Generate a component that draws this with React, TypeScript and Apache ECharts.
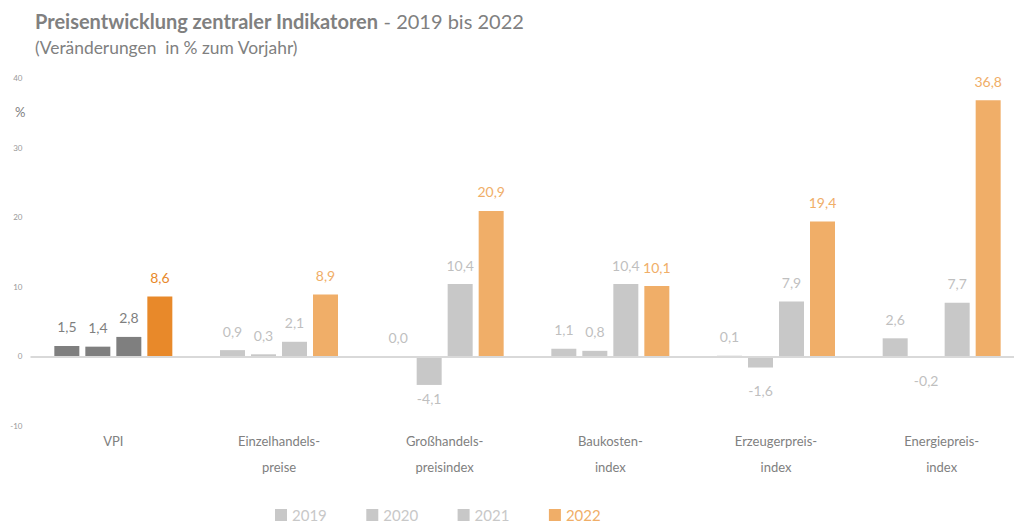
import React, { useEffect, useRef } from "react";
import * as echarts from "echarts";

const categories = ["VPI", "Einzelhandels-\npreise", "Großhandels-\npreisindex", "Baukosten-\nindex", "Erzeugerpreis-\nindex", "Energiepreis-\nindex"];
const years = ["2019", "2020", "2021", "2022"];
const v2019 = [1.5, 0.9, 0.0, 1.1, 0.1, 2.6];
const v2020 = [1.4, 0.3, -4.1, 0.8, -1.6, -0.2];
const v2021 = [2.8, 2.1, 10.4, 10.4, 7.9, 7.7];
const v2022 = [8.6, 8.9, 20.9, 10.1, 19.4, 36.8];
const yTicks = { min: -10, max: 40, interval: 10 };

const GRAY = "#C8C8C8";
const GRAY_LBL = "#BFBFBF";
const DARK = "#7F7F7F";
const ORANGE = "#F0AE68";
const ORANGE_DARK = "#E8892A";
const FONT = "Lato, 'Open Sans', sans-serif";

export default function App() {
  const ref = useRef<HTMLDivElement>(null);
  useEffect(() => {
    const chart = echarts.init(ref.current!, null, { renderer: "svg" });
    const fmt = (p: any) => Number(p.value).toFixed(1).replace(".", ",");
    const mk = (name: string, vals: number[], color: string, lblColor: string, vpiColor: string, vpiLbl: string, idx: number) => ({
      name,
      type: "bar",
      barWidth: 25,
      barGap: "24%",
      itemStyle: { color },
      data: vals.map((v, i) => ({
        value: v,
        itemStyle: i === 0 ? { color: vpiColor } : undefined,
        label: {
          position: v < 0 ? "bottom" : "top",
          distance: v < 0 ? (Math.abs(v) > 3 ? 7 : 16) : 12,
          color: i === 0 ? vpiLbl : lblColor,
        },
      })),
      label: {
        show: true,
        fontFamily: FONT,
        fontSize: 14,
        formatter: fmt,
      },
      markLine: idx === 0 ? {
        silent: true,
        symbol: "none",
        label: { show: false },
        lineStyle: { color: "#D9D9D9", width: 2, type: "solid" },
        data: [{ yAxis: 0 }],
      } : undefined,
      z: 3,
    });
    chart.setOption({
      animation: false,
      title: {
        left: 35,
        top: 11,
        padding: 0,
        text: "{b|Preisentwicklung zentraler Indikatoren}{n| - 2019 bis 2022}",
        subtext: "(Veränderungen  in % zum Vorjahr)",
        itemGap: 8,
        textStyle: {
          fontWeight: "normal",
          rich: {
            b: { fontFamily: FONT, fontSize: 20, fontWeight: "bold", color: "#808080" },
            n: { fontFamily: FONT, fontSize: 20, fontWeight: "normal", color: "#808080" },
          },
        },
        subtextStyle: { fontFamily: FONT, fontSize: 17.4, color: "#808080" },
      },
      graphic: [
        { type: "text", left: 15, top: 105, style: { text: "%", fontFamily: FONT, fontSize: 13, fill: "#808080" } },
      ],
      legend: {
        left: 275,
        top: 507,
        padding: 0,
        itemWidth: 12,
        itemHeight: 12,
        itemGap: 39.5,
        icon: "rect",
        textStyle: { fontFamily: FONT, fontSize: 15, lineHeight: 16 },
        data: years.map((y, i) => ({ name: y, textStyle: { color: i === 3 ? ORANGE : GRAY } })),
      },
      grid: { left: 30.5, width: 994, top: 78, bottom: 97, containLabel: false },
      xAxis: {
        type: "category",
        data: categories,
        axisLine: { show: false, onZero: false },
        axisTick: { show: false },
        axisLabel: { fontFamily: FONT, fontSize: 13, color: "#808080", lineHeight: 26, margin: 2, interval: 0 },
      },
      yAxis: {
        type: "value",
        ...yTicks,
        axisLine: { show: false },
        axisTick: { show: false },
        splitLine: { show: false },
        axisLabel: { fontFamily: FONT, fontSize: 8, color: "#999999", margin: 8 },
      },
      series: [
        mk("2019", v2019, GRAY, GRAY_LBL, DARK, DARK, 0),
        mk("2020", v2020, GRAY, GRAY_LBL, DARK, DARK, 1),
        mk("2021", v2021, GRAY, GRAY_LBL, DARK, DARK, 2),
        mk("2022", v2022, ORANGE, ORANGE, ORANGE_DARK, ORANGE_DARK, 3),
      ],
    });
    return () => chart.dispose();
  }, []);
  return (
    <div style={{ width: 1014, height: 523, position: "absolute", left: 0, top: 0, overflow: "hidden" }}>
      <div ref={ref} style={{ width: 1040, height: 523, position: "absolute", left: 0, top: 0 }} />
    </div>
  );
}
